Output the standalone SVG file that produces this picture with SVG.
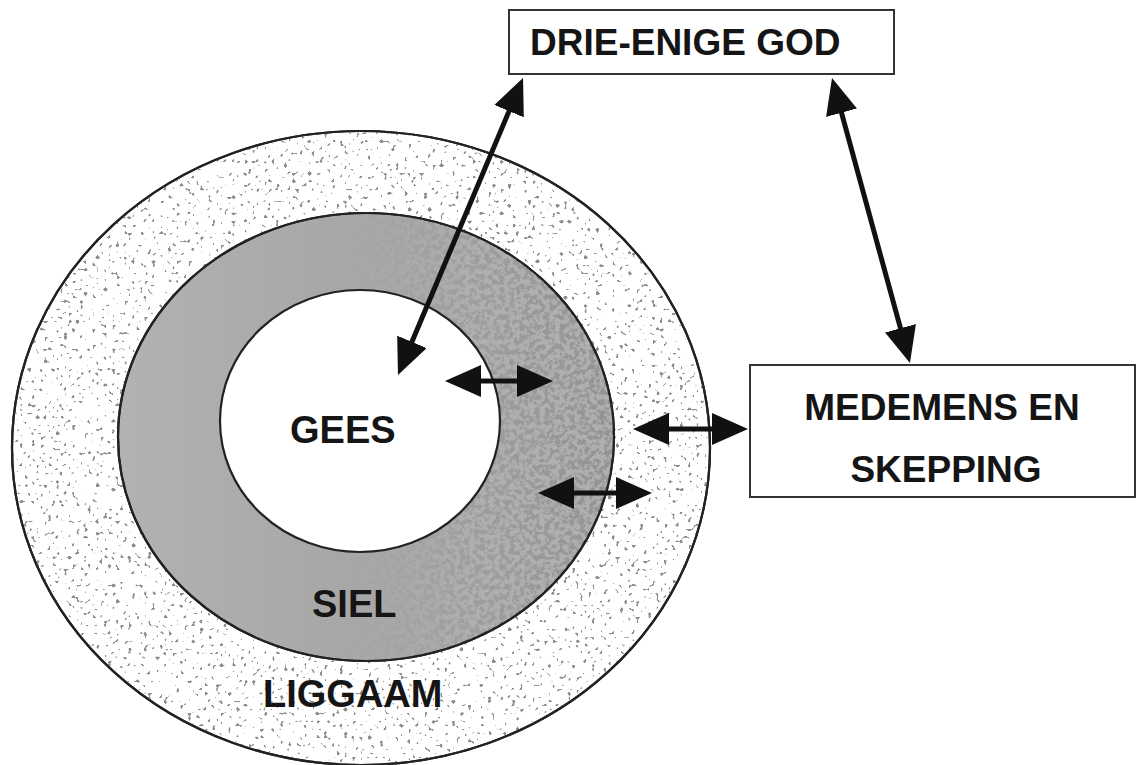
<svg xmlns="http://www.w3.org/2000/svg" width="1139" height="765" viewBox="0 0 1139 765">
<style>
.lbl{font-family:"Liberation Sans",Arial,sans-serif;font-weight:bold;font-size:38px;fill:#151515}
.box{fill:#fff;stroke:#333;stroke-width:2}
.ring{stroke:#222;stroke-width:2.2}
.conn{stroke:#111;stroke-width:5;fill:none;marker-start:url(#ah);marker-end:url(#ah)}
</style>
<defs>
<marker id="ah" markerUnits="userSpaceOnUse" markerWidth="36" markerHeight="32" viewBox="0 0 36 32" refX="30" refY="16" orient="auto-start-reverse">
<path d="M0,0 L36,16 L0,32 z" fill="#111"/>
</marker>
<filter id="stip" x="0" y="0" width="1" height="1">
<feTurbulence type="fractalNoise" baseFrequency="0.25" numOctaves="1" seed="7"/>
<feColorMatrix type="matrix" values="0 0 0 0 0.28  0 0 0 0 0.28  0 0 0 0 0.28  24 0 0 0 -15.4"/>
</filter>
<filter id="mott" x="0" y="0" width="1" height="1">
<feTurbulence type="fractalNoise" baseFrequency="0.2" numOctaves="3" seed="11"/>
<feColorMatrix type="matrix" values="0 0 0 0 0.43  0 0 0 0 0.43  0 0 0 0 0.43  7 0 0 0 -2.9"/>
</filter>
<linearGradient id="gmid" gradientUnits="userSpaceOnUse" x1="118" y1="0" x2="614" y2="0">
<stop offset="0" stop-color="#b2b2b2"/>
<stop offset="0.5" stop-color="#a6a6a6"/>
<stop offset="1" stop-color="#939393"/>
</linearGradient>
<linearGradient id="gmask" gradientUnits="userSpaceOnUse" x1="330" y1="0" x2="470" y2="0">
<stop offset="0" stop-color="#000"/>
<stop offset="1" stop-color="#fff"/>
</linearGradient>
<mask id="mmask"><rect x="0" y="0" width="1139" height="765" fill="url(#gmask)"/></mask>
<clipPath id="cOuter"><ellipse cx="361" cy="448" rx="349" ry="317"/></clipPath>
<clipPath id="cMid"><ellipse cx="366" cy="437" rx="248" ry="224"/></clipPath>
</defs>

<g id="liggaam">
<ellipse class="ring" cx="361" cy="448" rx="349" ry="317" fill="#fff"/>
<rect x="0" y="120" width="720" height="650" filter="url(#stip)" clip-path="url(#cOuter)"/>
<ellipse cx="361" cy="448" rx="349" ry="317" fill="none" class="ring"/>
<text class="lbl" x="263" y="707">LIGGAAM</text>
</g>

<g id="siel">
<ellipse class="ring" cx="366" cy="437" rx="248" ry="224" fill="url(#gmid)"/>
<g clip-path="url(#cMid)"><rect x="110" y="205" width="515" height="465" filter="url(#mott)" mask="url(#mmask)"/></g>
<ellipse cx="366" cy="437" rx="248" ry="224" fill="none" class="ring"/>
<text class="lbl" x="312" y="617">SIEL</text>
</g>

<g id="gees">
<ellipse class="ring" cx="360" cy="421" rx="140" ry="131" fill="#fff"/>
<text class="lbl" x="290" y="443">GEES</text>
</g>

<g id="god">
<rect class="box" x="509" y="10" width="385" height="64"/>
<text class="lbl" x="530" y="55" style="font-size:37px">DRIE-ENIGE GOD</text>
</g>

<g id="medemens">
<rect class="box" x="750" y="365" width="385" height="132"/>
<text class="lbl" x="942" y="420" text-anchor="middle" style="font-size:37px">MEDEMENS EN</text>
<text class="lbl" x="946" y="482" text-anchor="middle" style="font-size:37px">SKEPPING</text>
</g>

<g id="connectors">
<line class="conn" x1="520.7" y1="83.5" x2="400.3" y2="369.5"/>
<line class="conn" x1="833.6" y1="83.8" x2="908.4" y2="357.2"/>
<line class="conn" x1="451" y1="381" x2="547" y2="381"/>
<line class="conn" x1="639" y1="429" x2="742" y2="429"/>
<line class="conn" x1="544" y1="493" x2="646" y2="493"/>
</g>
</svg>
